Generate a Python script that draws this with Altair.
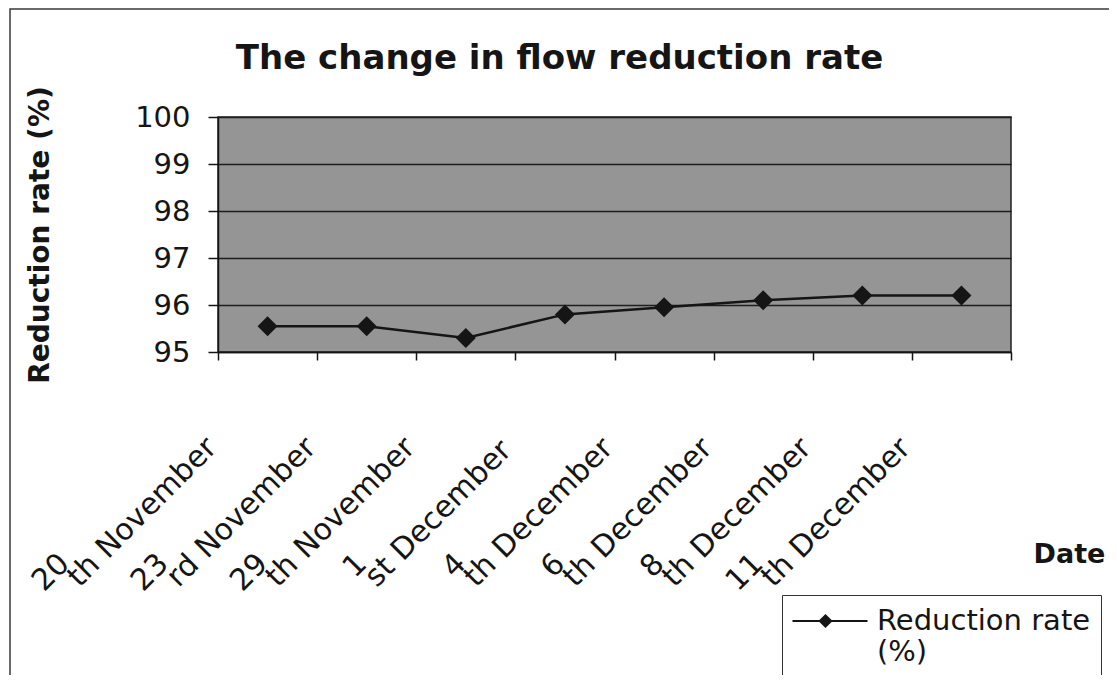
import re
import altair as alt
import pandas as pd

# ---- data ----
dates = ["20th November", "23rd November", "29th November", "1st December",
         "4th December", "6th December", "8th December", "11th December"]
rates = [95.55, 95.55, 95.30, 95.80, 95.95, 96.10, 96.20, 96.20]
series_name = "Reduction rate (%)"
title_text = "The change in flow reduction rate"
y_title = "Reduction rate (%)"
x_title = "Date"
y_ticks = [95, 96, 97, 98, 99, 100]

nums = [re.match(r"\d+", d).group(0) for d in dates]
suffixes = [d[len(n):] for d, n in zip(dates, nums)]
df = pd.DataFrame({
    "date": dates, "rate": rates, "num": nums, "suffix": suffixes,
    "series": [series_name] * len(dates),
})

FONT = "DejaVu Sans"
INK = "#151515"
W, H = 793, 235

x_enc = alt.X(
    "date:N", sort=dates,
    scale=alt.Scale(type="band", paddingInner=0, paddingOuter=0),
    axis=alt.Axis(
        labels=False, tickBand="extent", tickSize=8, tickColor=INK, tickWidth=1.5,
        domainColor=INK, domainWidth=1.5, grid=False,
        title=x_title, titleFont=FONT, titleFontSize=27, titleFontWeight="bold",
        titleColor=INK, titleX=815, titleY=210, titleAlign="left",
        titleBaseline="alphabetic",
    ),
)
y_enc = alt.Y(
    "rate:Q",
    scale=alt.Scale(domain=[95, 100], nice=False, zero=False),
    axis=alt.Axis(
        values=y_ticks, grid=True, gridColor="#1e1e1e", gridWidth=1.5,
        tickSize=10, tickColor=INK, tickWidth=1.5, domainColor=INK, domainWidth=1.5,
        labelFont=FONT, labelFontSize=29, labelColor=INK, labelPadding=18,
        title=y_title, titleFont=FONT, titleFontSize=28, titleFontWeight="bold",
        titleColor=INK, titleX=-170, titleY=H / 2, titleAngle=270,
        titleAlign="center", titleBaseline="alphabetic",
    ),
)

base = alt.Chart(df)

line = base.mark_line(color=INK, strokeWidth=2.5).encode(x=x_enc, y=y_enc)

legend_path = "M-2.5,0H2.5M-0.68,0L-0.3,-0.38L0.08,0L-0.3,0.38Z"
points = base.mark_point(shape="diamond", filled=True, size=400, opacity=1).encode(
    x=x_enc, y=y_enc,
    color=alt.Color(
        "series:N", scale=alt.Scale(range=[INK]),
        legend=alt.Legend(
            title=None, orient="none", legendX=564, legendY=478,
            padding=10, strokeColor="#333333", fillColor="white",
            symbolType=legend_path, symbolSize=900, symbolStrokeWidth=2,
            symbolStrokeColor=INK, symbolFillColor=INK, symbolOffset=22,
            labelOffset=31, labelFont=FONT, labelFontSize=29, labelColor=INK,
            labelLimit=500,
            labelExpr="split(replace(datum.label, ' (', '|('), '|')",
        ),
    ),
)

# date labels: number part (raised) and suffix part, rotated 45 degrees
num_text = base.mark_text(
    angle=315, align="right", baseline="alphabetic", dx=-290, dy=12,
    font=FONT, fontSize=30, color=INK,
).encode(x=x_enc, y=alt.value(H), text="num:N")

suf_text = base.mark_text(
    angle=315, align="left", baseline="alphabetic", dx=-300, dy=34,
    font=FONT, fontSize=30, color=INK,
).encode(x=x_enc, y=alt.value(H), text="suffix:N")

frame = alt.Chart(pd.DataFrame({"f": [0]})).mark_rect(
    fill="transparent", stroke="#3a3a3a", strokeWidth=1.5
).encode(
    x=alt.value(-208), x2=alt.value(W + 200),
    y=alt.value(-108), y2=alt.value(H + 400),
)

chart = alt.layer(frame, line, points, num_text, suf_text).properties(
    width=W, height=H,
    title=alt.TitleParams(
        title_text, font=FONT, fontSize=34, fontWeight="bold", color=INK,
        anchor="middle", frame="group", dx=-55, offset=-95,
        baseline="alphabetic",
    ),
    autosize=alt.AutoSizeParams(type="none"),
    padding={"left": 210, "top": 109, "right": 98, "bottom": 323},
).configure(
    background="white",
    view=alt.ViewConfig(fill="#959595", stroke="#222222", strokeWidth=1.5),
)

chart.save("out.html", embed_options={"renderer": "svg", "actions": False})
